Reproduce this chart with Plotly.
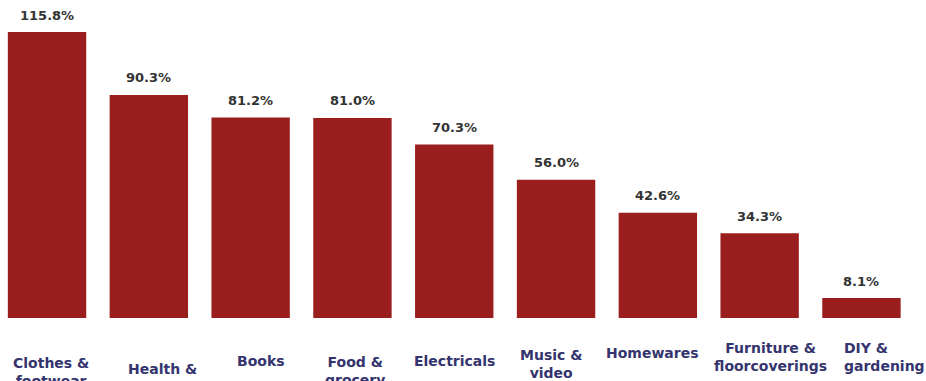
import plotly.graph_objects as go

categories = ["Clothes &<br>footwear", "Health &<br>beauty", "Books", "Food &<br>grocery",
              "Electricals", "Music &<br>video", "Homewares", "Furniture &<br>floorcoverings",
              "DIY &<br>gardening"]
values = [115.8, 90.3, 81.2, 81.0, 70.3, 56.0, 42.6, 34.3, 8.1]
value_labels = ["115.8%", "90.3%", "81.2%", "81.0%", "70.3%", "56.0%", "42.6%", "34.3%", "8.1%"]

# label layout (pixel offsets below the axis, horizontal shift, anchor)
label_drop = [54, 60, 43, 53, 43, 46, 35, 39, 39]
label_xshift = [4, 14, 10, 3, 0, -5, -5, 11, -19]
label_anchor = ["center"] * 8 + ["left"]

BAR = "#9B1E1E"
VAL = "#333333"
CAT = "#34346E"
FONT = "DejaVu Sans"

x = list(range(len(values)))
fig = go.Figure(go.Bar(x=x, y=values, width=0.77, marker=dict(color=BAR, line=dict(width=0)),
                       hoverinfo="skip"))

ann = []
for i, (v, t) in enumerate(zip(values, value_labels)):
    ann.append(dict(x=i, y=v, xref="x", yref="y", text="<b>%s</b>" % t, showarrow=False,
                    yanchor="middle", yshift=17, font=dict(family=FONT, size=13, color=VAL)))
for i, c in enumerate(categories):
    ann.append(dict(x=i, y=0, xref="x", yref="paper", text="<b>%s</b>" % c, showarrow=False,
                    yanchor="middle", xanchor=label_anchor[i], align=label_anchor[i],
                    yshift=-label_drop[i], xshift=label_xshift[i],
                    font=dict(family=FONT, size=14, color=CAT)))

fig.update_layout(
    width=926, height=381,
    margin=dict(l=0, r=0, t=0, b=63),
    paper_bgcolor="white", plot_bgcolor="white",
    showlegend=False,
    xaxis=dict(range=[-0.462, 8.634], showticklabels=False, showgrid=False, zeroline=False,
               showline=False, ticks=""),
    yaxis=dict(range=[0, 128.76], visible=False, showgrid=False, zeroline=False),
    annotations=ann,
)

fig.write_html("out.html")
